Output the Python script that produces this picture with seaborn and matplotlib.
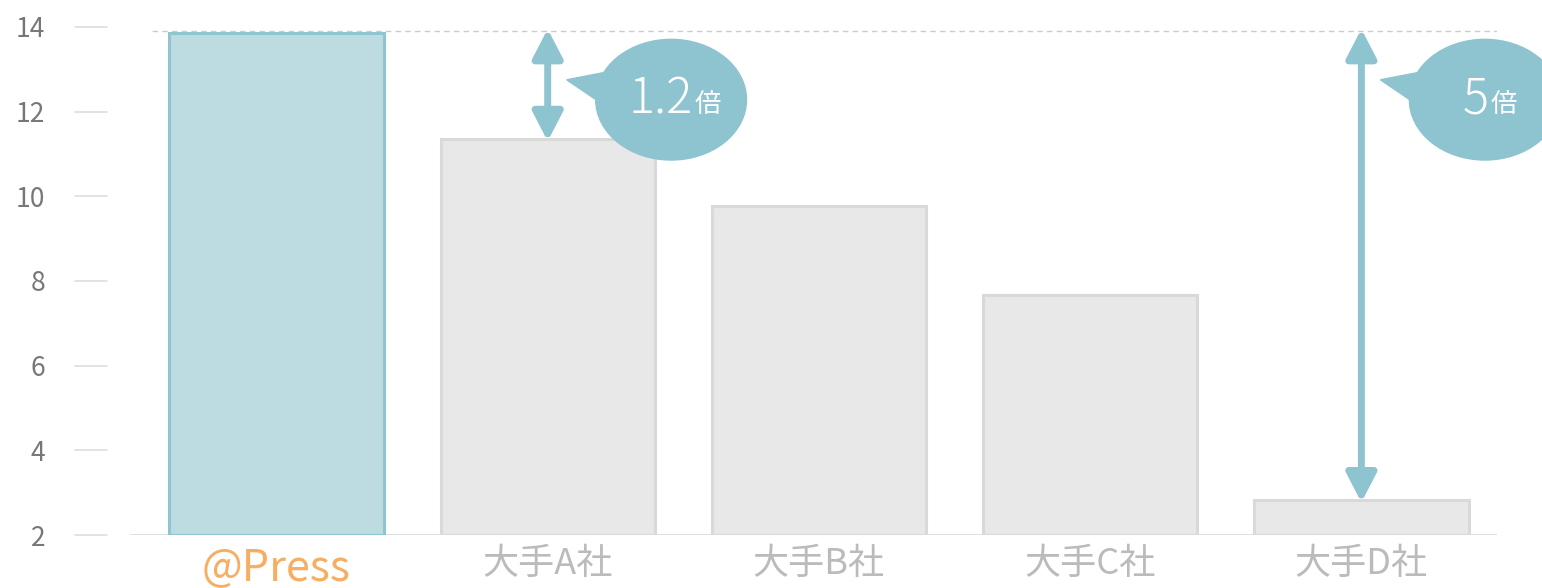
import matplotlib
matplotlib.use("Agg")
import matplotlib.pyplot as plt
import matplotlib.transforms as mtransforms
from matplotlib.patches import Ellipse, Polygon
import seaborn as sns
import pandas as pd

# values
companies = ["@Press", "大手A社", "大手B社", "大手C社", "大手D社"]
values = [13.85, 11.35, 9.77, 7.66, 2.82]
y_ticks = [2, 4, 6, 8, 10, 12, 14]
callouts = [("1.2", 1), ("5", 4)]  # ratio text, index of compared bar

fill_colors = ["#BCDCE2", "#E8E8E8", "#E8E8E8", "#E8E8E8", "#E8E8E8"]
edge_colors = ["#8FC5CF", "#D9D9D9", "#D9D9D9", "#D9D9D9", "#D9D9D9"]
label_colors = ["#F7AE63", "#BBBBBB", "#BBBBBB", "#BBBBBB", "#BBBBBB"]
accent = "#8EC4CF"

sns.set_theme(style="white")
plt.rcParams["font.family"] = ["Noto Sans CJK JP", "DejaVu Sans"]

df = pd.DataFrame({"company": companies, "value": values})

fig = plt.figure(figsize=(15.42, 5.88), dpi=100)
ax = fig.add_axes([130 / 1542, 53 / 588, (1497 - 130) / 1542, (535 - 15) / 588])

base = y_ticks[0]
sns.barplot(data=df, x="company", y=[v - base for v in values], hue="company",
            palette=fill_colors, legend=False, width=0.79, bottom=base, ax=ax,
            linewidth=2.2, saturation=1)
for patch, ec in zip(ax.patches, edge_colors):
    patch.set_edgecolor(ec)

ax.set_xlim(-0.54, 4.5)
ax.set_ylim(base, 14.28)
ax.set_xlabel("")
ax.set_ylabel("")
sns.despine(ax=ax, left=True, bottom=True, top=True, right=True)

# baseline
ax.axhline(base, color="#DDDDDD", lw=1.3, zorder=0)
# dashed reference line at @Press level
ax.axhline(13.9, xmin=(152 - 130) / 1367, xmax=1.0, color="#CCCCCC", lw=1,
           ls=(0, (4, 3)), zorder=0)

# y ticks: labels and short grey dashes in the left margin
ax.set_yticks(y_ticks)
ax.set_yticklabels([str(t) for t in y_ticks], color="#777777", fontsize=19)
ax.tick_params(axis="y", length=0, pad=61)
trans = mtransforms.blended_transform_factory(ax.transAxes, ax.transData)
for t in y_ticks:
    ax.plot([-0.0402, -0.0168], [t, t], color="#DDDDDD", lw=1.2,
            transform=trans, clip_on=False)

# x tick labels
ax.set_xticks(range(len(companies)))
ax.set_xticklabels(companies)
ax.tick_params(axis="x", length=0, pad=8)
for lbl, col in zip(ax.get_xticklabels(), label_colors):
    lbl.set_color(col)
    lbl.set_fontsize(31 if lbl.get_text() == "@Press" else 26)

# arrows and speech bubbles
top = values[0]
for ratio, idx in callouts:
    ax.annotate("", xy=(idx, values[idx] - 0.05), xytext=(idx, top + 0.1),
                arrowprops=dict(arrowstyle="<|-|>,head_length=1.35,head_width=0.7",
                                color=accent, lw=5, shrinkA=0, shrinkB=0,
                                mutation_scale=13), zorder=3)
    cx = idx + 0.455
    cy = 12.28
    ax.add_patch(Ellipse((cx, cy), 0.556, 2.85, color=accent, zorder=4, clip_on=False))
    ax.add_patch(Polygon([(idx + 0.07, 12.75), (cx - 0.24, 12.93), (cx - 0.27, 12.25)],
                         closed=True, color=accent, zorder=4, clip_on=False))
    shift = 0.0 if len(ratio) > 1 else 0.065
    ax.text(cx + 0.08 - shift, cy, ratio, color="white",
            fontsize=35, ha="right", va="center", zorder=5, fontweight="light")
    ax.text(cx + 0.085 - shift, cy - 0.12, "倍", color="white",
            fontsize=19, ha="left", va="center", zorder=5)

fig.savefig("out.png", dpi=100)
